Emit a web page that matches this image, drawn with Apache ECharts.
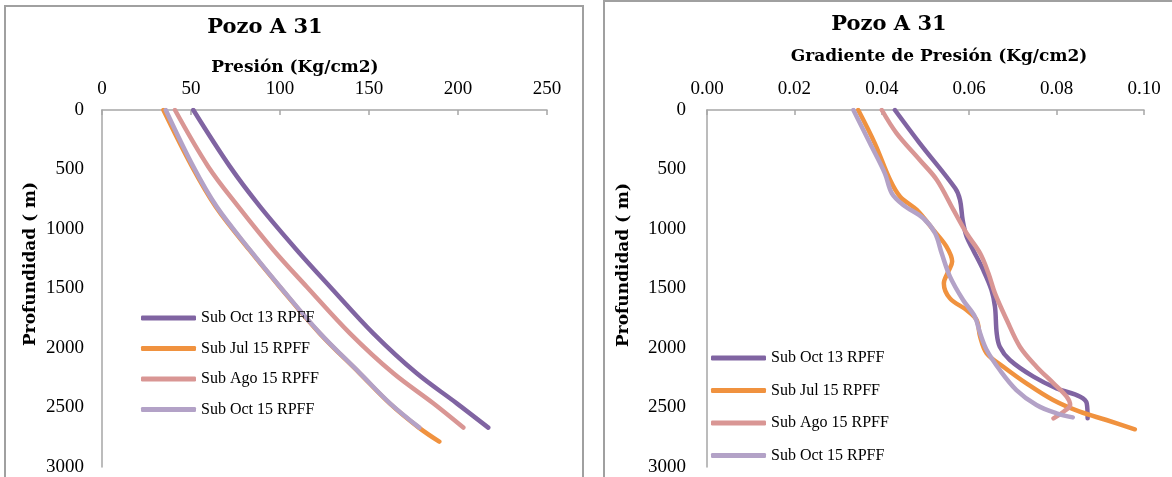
<!DOCTYPE html>
<html>
<head>
<meta charset="utf-8">
<script src="https://cdn.jsdelivr.net/npm/echarts@6/dist/echarts.min.js"></script>
<style>html,body{margin:0;padding:0;background:#fff}#c{width:1172px;height:477px}</style>
</head>
<body>
<div id="c"></div>
<script>
// ---------- DATA ----------
var seriesNames = ['Sub Oct 13 RPFF', 'Sub Jul 15 RPFF', 'Sub Ago 15 RPFF', 'Sub Oct 15 RPFF'];
var seriesColors = ['#8064A2', '#F0923F', '#D99694', '#B3A2C7'];

// Left chart: Presión (Kg/cm2) vs Profundidad (m)
var presDepth = [0, 476, 812, 1176, 1485, 1877, 2213, 2465, 2669];
var presDepthJul15 = [0, 476, 812, 1176, 1485, 1877, 2213, 2465, 2669, 2787];
var presOct13 = [51.3, 71.9, 88.8, 109.4, 128.1, 152.4, 176.8, 199.3, 217.0];
var presJul15 = [34.5, 50.6, 63.9, 82.8, 99.8, 122.3, 144.8, 161.6, 178.0, 189.5];
var presAgo15 = [41.0, 59.7, 76.6, 96.3, 115.0, 139.3, 163.7, 186.1, 203.0];
var presOct15 = [35.8, 51.3, 64.4, 83.1, 100.0, 122.5, 145.0, 161.8, 178.3];

// Right chart: Gradiente de Presión vs Profundidad (m)
var gradDepthOct13 = [0, 280, 658, 756, 924, 1064, 1176, 1344, 1513, 1653, 1877, 1989, 2101, 2241, 2339, 2409, 2465, 2591];
var gradOct13 = [0.0430, 0.0487, 0.0568, 0.0579, 0.0585, 0.0594, 0.0609, 0.0632, 0.0651, 0.0659, 0.0663, 0.0670, 0.0693, 0.0747, 0.0800, 0.0854, 0.0869, 0.0871];
var gradDepthJul15 = [0, 280, 588, 728, 840, 1008, 1148, 1274, 1358, 1457, 1583, 1681, 1765, 1905, 2045, 2157, 2297, 2437, 2535, 2605, 2683];
var gradJul15 = [0.0346, 0.0384, 0.0419, 0.0442, 0.0480, 0.0518, 0.0548, 0.0561, 0.0552, 0.0542, 0.0556, 0.0594, 0.0617, 0.0625, 0.0640, 0.0678, 0.0731, 0.0792, 0.0853, 0.0914, 0.0979];
var gradDepthAgo15 = [0, 196, 420, 588, 840, 1036, 1204, 1372, 1541, 1765, 1989, 2157, 2297, 2409, 2479, 2535, 2591];
var gradAgo15 = [0.0400, 0.0434, 0.0487, 0.0526, 0.0564, 0.0594, 0.0625, 0.0644, 0.0659, 0.0686, 0.0716, 0.0754, 0.0793, 0.0823, 0.0831, 0.0816, 0.0793];
var gradDepthOct15 = [0, 280, 532, 700, 798, 910, 1036, 1204, 1400, 1597, 1737, 1877, 2017, 2185, 2353, 2479, 2549, 2583];
var gradOct15 = [0.0335, 0.0373, 0.0407, 0.0423, 0.0449, 0.0495, 0.0522, 0.0537, 0.0556, 0.0586, 0.0613, 0.0625, 0.0640, 0.0670, 0.0708, 0.0754, 0.0800, 0.0837];

// Axis ranges / tick intervals
var presMin = 0, presMax = 250, presStep = 50;
var gradMin = 0, gradMax = 0.10, gradStep = 0.02;
var depthMin = 0, depthMax = 3000, depthStep = 500;

// ---------- CHART ----------
function pairs(xs, ys) { return xs.map(function (x, i) { return [x, ys[i]]; }); }

var serif = "'Liberation Serif', 'DejaVu Serif', serif";
var boldSerif = "'DejaVu Serif', 'Liberation Serif', serif";
var axisGray = '#A6A6A6';

function mkSeries(name, color, data, gi) {
  return {
    name: name, type: 'line', xAxisIndex: gi, yAxisIndex: gi,
    data: data, smooth: 0.35, symbol: 'none', showSymbol: false,
    color: color,
    lineStyle: { width: 4.5, color: color, cap: 'round', join: 'round' },
    itemStyle: { color: color },
    emphasis: { disabled: true }, animation: false
  };
}

var leftData = [
  pairs(presOct13, presDepth),
  pairs(presJul15, presDepthJul15),
  pairs(presAgo15, presDepth),
  pairs(presOct15, presDepth)
];
var rightData = [
  pairs(gradOct13, gradDepthOct13),
  pairs(gradJul15, gradDepthJul15),
  pairs(gradAgo15, gradDepthAgo15),
  pairs(gradOct15, gradDepthOct15)
];

var series = [];
for (var i = 0; i < 4; i++) series.push(mkSeries(seriesNames[i], seriesColors[i], leftData[i], 0));
for (var j = 0; j < 4; j++) series.push(mkSeries(seriesNames[j], seriesColors[j], rightData[j], 1));

function xAxisCfg(gi, mn, mx, st, fmt) {
  return {
    type: 'value', gridIndex: gi, position: 'top', min: mn, max: mx, interval: st,
    axisLine: { show: true, lineStyle: { color: axisGray, width: 1.5 } },
    axisTick: { show: true, inside: true, length: 5, lineStyle: { color: axisGray, width: 1.5 } },
    splitLine: { show: false },
    axisLabel: { color: '#000', fontFamily: serif, fontSize: 19, margin: 11, formatter: fmt }
  };
}
function yAxisCfg(gi, margin) {
  return {
    type: 'value', gridIndex: gi, inverse: true, min: depthMin, max: depthMax, interval: depthStep,
    axisLine: { show: true, lineStyle: { color: axisGray, width: 1.5 } },
    axisTick: { show: false },
    splitLine: { show: false },
    axisLabel: { color: '#000', fontFamily: serif, fontSize: 19, margin: margin,
      formatter: function (v) { return String(v); } }
  };
}

function txt(x, y, s, size, rot) {
  return {
    type: 'text', x: x, y: y, rotation: rot || 0, silent: true,
    style: { text: s, fill: '#000', font: 'bold ' + size + 'px ' + boldSerif, align: 'center', verticalAlign: 'middle' }
  };
}

var legendBase = {
  orient: 'vertical', data: seriesNames, icon: 'roundRect', padding: 0,
  itemWidth: 55, itemHeight: 5, selectedMode: false,
  textStyle: { color: '#000', fontFamily: serif, fontSize: 16, lineHeight: 16 }
};

var option = {
  backgroundColor: '#fff',
  animation: false,
  grid: [
    { left: 102, top: 110, width: 445, height: 357 },
    { left: 707, top: 110, width: 437, height: 357 }
  ],
  xAxis: [
    xAxisCfg(0, presMin, presMax, presStep, function (v) { return String(v); }),
    xAxisCfg(1, gradMin, gradMax, gradStep, function (v) { return v.toFixed(2); })
  ],
  yAxis: [yAxisCfg(0, 18), yAxisCfg(1, 21)],
  legend: [
    Object.assign({}, legendBase, { left: 141, top: 310, itemGap: 14.5 }),
    Object.assign({}, legendBase, { left: 711, top: 350, itemGap: 16.5 })
  ],
  graphic: [
    { type: 'rect', shape: { x: 5, y: 6, width: 578, height: 490 }, silent: true,
      style: { fill: 'none', stroke: '#A0A0A0', lineWidth: 2 } },
    { type: 'rect', shape: { x: 604, y: 1, width: 600, height: 500 }, silent: true,
      style: { fill: 'none', stroke: '#A0A0A0', lineWidth: 2 } },
    txt(265, 28, 'Pozo A 31', 21),
    txt(295, 68, 'Presión (Kg/cm2)', 17),
    txt(31, 264, 'Profundidad ( m)', 17, Math.PI / 2),
    txt(889, 25, 'Pozo A 31', 21),
    txt(939, 57, 'Gradiente de Presión (Kg/cm2)', 17),
    txt(624, 265, 'Profundidad ( m)', 17, Math.PI / 2)
  ],
  series: series
};

var chart = echarts.init(document.getElementById('c'), null, { renderer: 'canvas' });
chart.setOption(option);
</script>
</body>
</html>
